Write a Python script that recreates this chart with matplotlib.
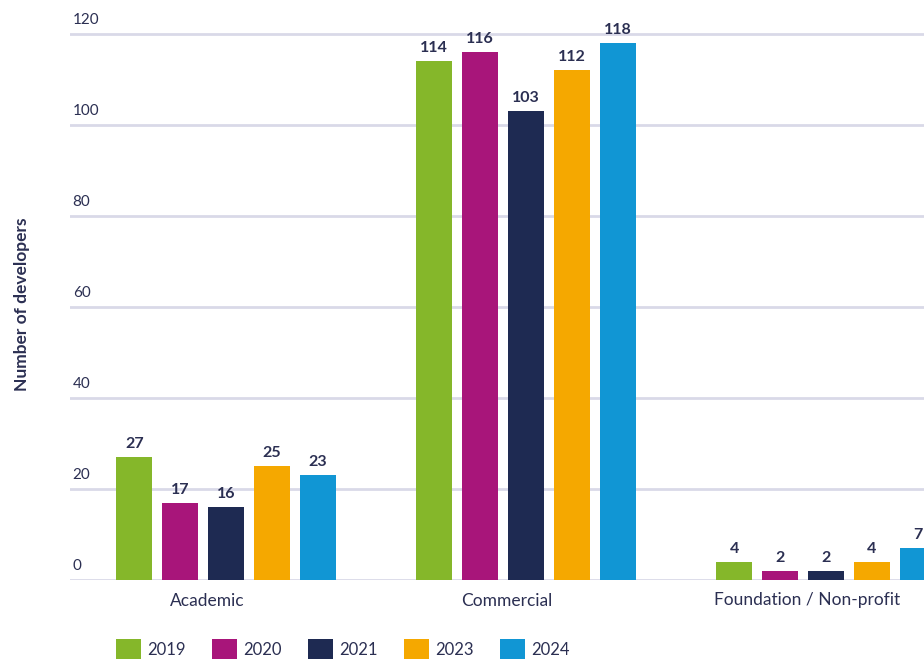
import matplotlib.pyplot as plt
from matplotlib.patches import Patch
import numpy as np

plt.rcParams['font.family'] = ['Lato', 'DejaVu Sans']

categories = ['Academic', 'Commercial', 'Foundation / Non-profit']
years = ['2019', '2020', '2021', '2023', '2024']
values = {
    '2019': [27, 114, 4],
    '2020': [17, 116, 2],
    '2021': [16, 103, 2],
    '2023': [25, 112, 4],
    '2024': [23, 118, 7],
}
colors = ['#85b72a', '#a8157a', '#1e2a52', '#f5a800', '#1196d4']
yticks = [0, 20, 40, 60, 80, 100, 120]

text_col = '#2b2f52'
grid_col = '#d9d9e8'

fig = plt.figure(figsize=(9.24, 6.6), dpi=100)
# axes runs past the right edge, like the cropped original
ax = fig.add_axes([70 / 924, 80 / 660, 890 / 924, 568.75 / 660])

x = np.arange(len(categories))
w = 0.12
step = 0.153
for i, yr in enumerate(years):
    xs = x + (i - 2) * step
    bars = ax.bar(xs, values[yr], width=w, color=colors[i], zorder=3)
    for b, v in zip(bars, values[yr]):
        ax.text(b.get_x() + b.get_width() / 2, v + 1.3, str(v), ha='center', va='bottom',
                fontsize=11.5, fontweight='bold', color=text_col, zorder=4)

ax.set_xlim(-0.52, (960 - 226) / 300)
ax.set_ylim(0, 125)

for t in yticks:
    ax.axhline(t, color=grid_col, lw=2, zorder=1)
    ax.text(0.003, t + 1.5, str(t), transform=ax.get_yaxis_transform(), ha='left', va='bottom',
            fontsize=11, color=text_col)

ax.set_yticks([])
# category labels sit a little left of the group centre in the original
ax.set_xticks(x - 0.063)
ax.set_xticklabels(categories, fontsize=12.5, color=text_col)
ax.tick_params(axis='x', length=0, pad=9)
for s in ax.spines.values():
    s.set_visible(False)

fig.text(22 / 924, 1 - 304 / 660, 'Number of developers', rotation=90, ha='center', va='center',
         fontsize=12.5, fontweight='bold', color=text_col)

handles = [Patch(facecolor=c, label=y) for c, y in zip(colors, years)]
fig.legend(handles=handles, loc='center left', bbox_to_anchor=(101 / 924, 1 - 649 / 660), ncol=5,
           frameon=False, fontsize=12, handlelength=1.5, handleheight=1.4, handletextpad=0.4,
           columnspacing=1.55, labelcolor=text_col)

fig.savefig('out.png', dpi=100)
